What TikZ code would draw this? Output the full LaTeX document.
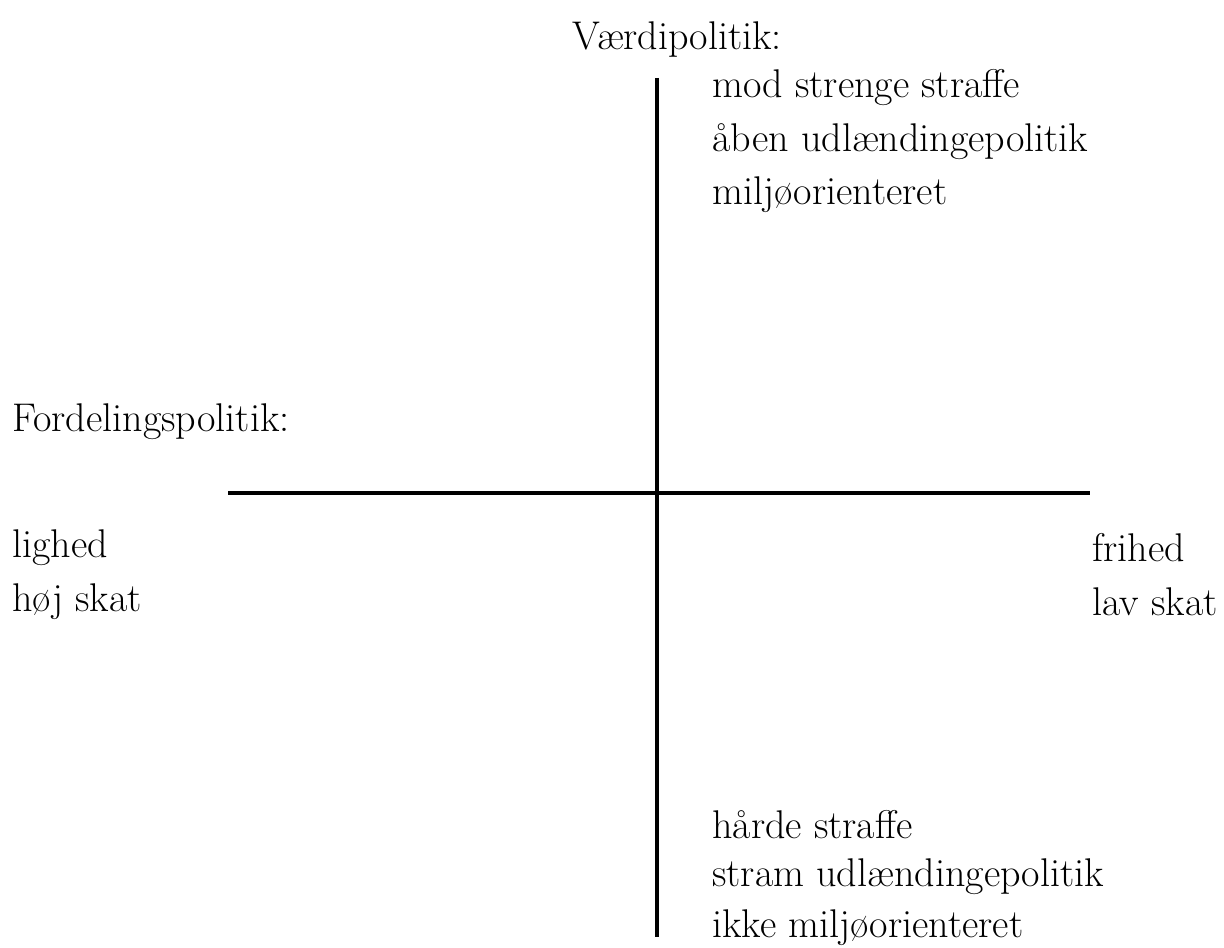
\documentclass[tikz,border=0pt]{standalone}
\usepackage{tikz}
\usetikzlibrary{positioning}

\begin{document}
\begin{tikzpicture}[x=0.02cm,y=0.02cm,font=\fontsize{22.8}{27}\selectfont,
  lbl/.style={anchor=west,inner sep=0pt},
  axis/.style={line width=2.3pt,black}]
\useasboundingbox (0,0) rectangle (1224,947);
% axes
\coordinate (vtop) at (657,869);
\coordinate (vbot) at (657,10);
\coordinate (hleft) at (228,454);
\coordinate (hright) at (1090,454);
\draw[axis] (vtop) -- (vbot);
\draw[axis] (hleft) -- (hright);
% top: values
\node[lbl] (vaerdi) at (572,907) {Værdipolitik:};
\node[lbl] (mod) at (712,859) {mod strenge straffe};
\node[lbl] (aaben) at (712,805) {åben udlændingepolitik};
\node[lbl] (miljo) at (712,752) {miljøorienteret};
% left/right: distribution
\node[lbl] (fordel) at (12,525) {Fordelingspolitik:};
\node[lbl] (lighed) at (12,399) {lighed};
\node[lbl] (hoej) at (12,345) {høj skat};
\node[lbl] (frihed) at (1092,399) {frihed};
\node[lbl] (lav) at (1092,345) {lav skat};
% bottom
\node[lbl] (haarde) at (712,122) {hårde straffe};
\node[lbl] (stram) at (712,70) {stram udlændingepolitik};
\node[lbl] (ikke) at (712,19) {ikke miljøorienteret};
\end{tikzpicture}
\end{document}
